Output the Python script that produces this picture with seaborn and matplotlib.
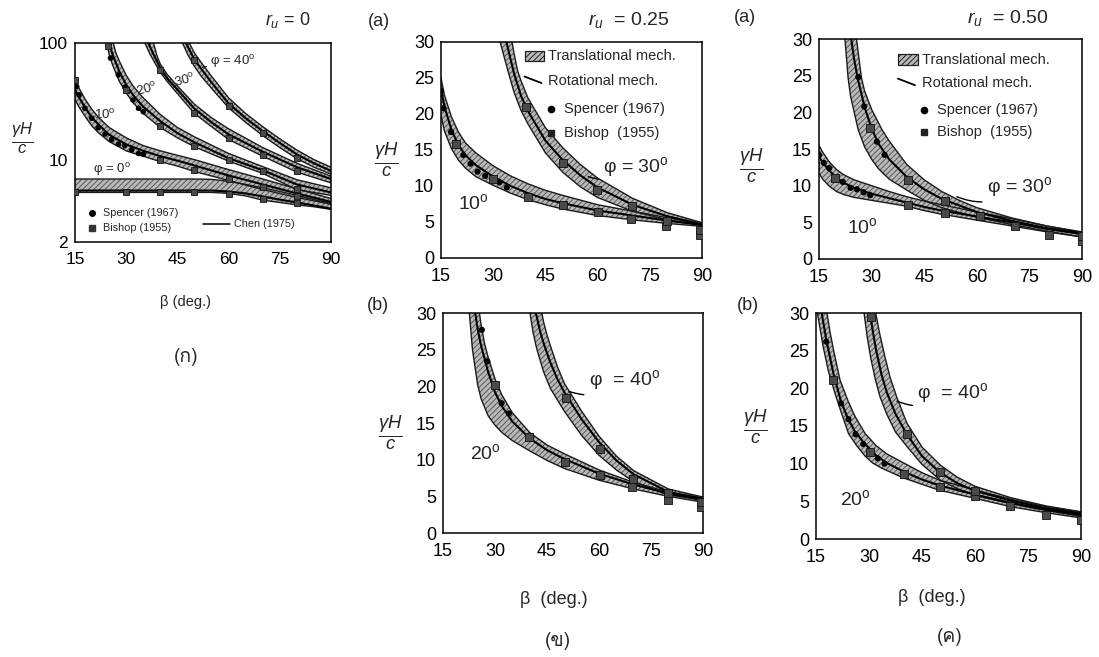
import numpy as np
import matplotlib
matplotlib.use("Agg")
import matplotlib.pyplot as plt
import seaborn as sns
from matplotlib.patches import Rectangle
from matplotlib.lines import Line2D
from matplotlib import font_manager

# ---------------- data ----------------
# Panel (ก)  r_u = 0, log axis
ru0_phi0_b = [15, 30, 40, 50, 55, 60, 65, 70, 75, 80, 85, 90]
ru0_phi0_lo = [5.3, 5.3, 5.3, 5.3, 5.3, 5.2, 4.95, 4.55, 4.35, 4.15, 4.0, 3.8]
ru0_phi0_hi = [6.9, 6.9, 6.9, 6.9, 6.85, 6.6, 6.2, 5.8, 5.4, 5.0, 4.6, 4.3]
ru0_phi0_ln = [5.5, 5.5, 5.5, 5.5, 5.5, 5.4, 5.2, 4.9, 4.6, 4.35, 4.1, 3.85]

ru0_phi10_b = [15, 16, 18, 20, 22, 25, 30, 35, 40, 45, 50, 60, 70, 80, 90]
ru0_phi10_hi = [48, 42, 33, 27, 23, 19, 15.5, 13.3, 12, 11, 10.1, 8.3, 6.9, 5.7, 4.7]
ru0_phi10_lo = [33, 29, 23.5, 19.5, 17, 14.4, 12, 10.8, 9.7, 8.9, 8.0, 6.7, 5.6, 4.8, 4.2]
ru0_phi10_ln = [40, 35, 28, 23, 20, 16.5, 13.6, 12, 10.8, 9.9, 9.0, 7.4, 6.2, 5.2, 4.4]

ru0_phi20_lo_b = [24.3, 25, 26, 28, 30, 32, 35, 40, 45, 50, 60, 70, 80, 90]
ru0_phi20_lo_y = [100, 80, 65, 47, 37.5, 31, 25, 19, 15.5, 13.0, 9.8, 7.7, 5.6, 5.0]
ru0_phi20_hi_b = [26.2, 27, 28, 30, 32, 35, 40, 45, 50, 60, 70, 80, 90]
ru0_phi20_hi_y = [100, 82, 70, 53, 43, 34, 24.5, 19, 15.8, 11.4, 8.8, 6.8, 5.8]
ru0_phi20_ln_b = [25, 26, 28, 30, 32, 35, 40, 45, 50, 60, 70, 80, 90]
ru0_phi20_ln_y = [100, 80, 57, 44, 36, 28.5, 21.5, 17, 14.2, 10.4, 8.2, 6.2, 5.3]

ru0_phi30_lo_b = [35.5, 37, 38, 40, 42, 45, 50, 55, 60, 70, 80, 90]
ru0_phi30_lo_y = [100, 80, 71, 56, 47, 37, 25, 19.3, 15.0, 10.8, 7.9, 6.4]
ru0_phi30_hi_b = [38, 39, 40, 42, 45, 50, 55, 60, 70, 80, 90]
ru0_phi30_hi_y = [100, 78, 66, 54, 43, 30, 23, 18.5, 12.8, 9.4, 7.3]
ru0_phi30_ln_b = [36.5, 38, 40, 42, 45, 50, 55, 60, 70, 80, 90]
ru0_phi30_ln_y = [100, 80, 61, 50, 40, 27.5, 21, 16.6, 11.8, 8.7, 6.9]

ru0_phi40_lo_b = [46.5, 48, 50, 52, 55, 60, 65, 70, 75, 80, 85, 90]
ru0_phi40_lo_y = [100, 80, 63, 52, 41, 28, 21, 16.2, 12.8, 10.3, 8.7, 7.6]
ru0_phi40_hi_b = [48.5, 50, 52, 55, 60, 65, 70, 75, 80, 85, 90]
ru0_phi40_hi_y = [100, 82, 68, 52, 34, 25, 19.3, 15.2, 12.2, 10.1, 8.7]
ru0_phi40_ln_b = [47.5, 50, 52, 55, 60, 65, 70, 75, 80, 85, 90]
ru0_phi40_ln_y = [100, 72, 60, 46, 30.5, 22.8, 17.7, 14, 11.2, 9.4, 8.1]

ru0_spencer_b = [15, 15.5, 16.2, 17.9, 19.9, 21.8, 23.8, 25.7, 27.7, 29.6, 31.6, 33.6, 35,
                 24.8, 25.4, 27.7, 29.6, 32, 33.6, 35]
ru0_spencer_y = [46.9, 42.5, 36, 27.7, 22.8, 18.9, 16.7, 15.0, 13.7, 13.3, 12.2, 11.4, 11.2,
                 93.6, 74.3, 53.4, 42, 32.6, 27.7, 25.9]
ru0_bishop_b = [15, 30, 40, 50, 60, 70, 80, 15, 40, 50, 60, 70, 80,
                24.6, 30, 40, 50, 60, 70, 80, 40, 50, 60, 70, 80, 50, 60, 70, 80]
ru0_bishop_y = [5.35, 5.35, 5.35, 5.35, 5.1, 4.7, 4.3, 48, 10.1, 8.2, 6.9, 5.9, 4.9,
                95, 40, 19.5, 13.3, 10, 8.0, 5.7, 59, 25.1, 15.3, 11.1, 8.1, 72, 28.7, 16.9, 10.4]

# Panel (ข)(a)  r_u = 0.25, phi = 10, 30
ru25_phi10_b = [15, 16, 18, 20, 22, 25, 30, 35, 40, 45, 50, 60, 70, 80, 90]
ru25_phi10_hi = [25.0, 22.6, 19.6, 17.5, 16.0, 14.6, 12.8, 11.4, 10.3, 9.4, 8.7, 7.4, 6.5, 5.6, 4.7]
ru25_phi10_lo = [19.8, 17.6, 15.2, 13.6, 12.5, 11.3, 10.1, 9.0, 8.1, 7.4, 6.8, 5.9, 5.3, 4.8, 4.4]
ru25_phi10_ln = [23.5, 21.0, 17.8, 15.7, 14.3, 12.9, 11.3, 10.0, 9.0, 8.2, 7.6, 6.6, 5.9, 5.2, 4.6]

ru25_phi30_lo_b = [32, 34, 36, 38, 40, 45, 50, 55, 60, 70, 80, 90]
ru25_phi30_lo_y = [30, 26.4, 23.0, 20.5, 18.6, 14.6, 11.9, 9.9, 8.4, 6.5, 5.3, 4.5]
ru25_phi30_hi_b = [35.4, 36, 37, 38, 40, 45, 50, 55, 60, 70, 80, 90]
ru25_phi30_hi_y = [30, 28.4, 26.0, 24.6, 22.2, 18.1, 15.3, 13.0, 11.1, 8.3, 6.3, 4.9]
ru25_phi30_ln_b = [33.8, 35, 36, 38, 40, 45, 50, 55, 60, 70, 80, 90]
ru25_phi30_ln_y = [30, 27.6, 25.6, 22.5, 20.4, 16.3, 13.6, 11.5, 9.8, 7.4, 5.8, 4.7]

ru25a_spencer_b = [15, 15.7, 17.9, 21.4, 23.5, 25.5, 27.7, 31.8, 33.9]
ru25a_spencer_y = [23.2, 20.8, 17.5, 14.3, 13.1, 12.0, 11.4, 10.5, 9.8]
ru25a_bishop_b = [19.2, 29.8, 40, 50.2, 60, 69.7, 79.7, 89.5, 39.4, 50.1, 59.8, 70, 80, 89.5]
ru25a_bishop_y = [15.8, 11.0, 8.5, 7.3, 6.4, 5.4, 4.5, 3.2, 21.0, 13.2, 9.4, 7.2, 5.2, 3.9]

# Panel (ข)(b)  r_u = 0.25, phi = 20, 40
ru25_phi20_lo_b = [22.6, 23.5, 25, 26, 28, 30, 32, 35, 40, 45, 50, 60, 70, 80, 90]
ru25_phi20_lo_y = [30, 25, 20.2, 18.3, 16.0, 14.7, 13.7, 12.6, 11.2, 9.9, 8.8, 7.2, 6.0, 5.0, 4.2]
ru25_phi20_hi_b = [25.5, 26, 27, 28, 30, 32, 35, 40, 45, 50, 60, 70, 80, 90]
ru25_phi20_hi_y = [30, 28.4, 25.8, 24.0, 21.0, 18.8, 16.4, 13.7, 12.0, 10.8, 8.6, 6.9, 5.6, 4.6]
ru25_phi20_ln_b = [24.3, 25, 26, 28, 30, 32, 35, 40, 45, 50, 60, 70, 80, 90]
ru25_phi20_ln_y = [30, 27.8, 25.5, 22.0, 19.2, 17.3, 15.2, 12.9, 11.3, 10.1, 8.1, 6.6, 5.4, 4.5]

ru25_phi40_lo_b = [40.1, 41, 42, 44, 46, 50, 55, 60, 65, 70, 80, 90]
ru25_phi40_lo_y = [30, 27.3, 25.2, 22.0, 19.7, 16.6, 13.3, 10.6, 8.6, 7.0, 5.2, 4.5]
ru25_phi40_hi_b = [43.5, 44, 45, 46, 48, 50, 55, 60, 65, 70, 80, 90]
ru25_phi40_hi_y = [30, 28.8, 27.0, 25.5, 22.7, 20.4, 16.6, 13.2, 10.5, 8.5, 6.0, 4.9]
ru25_phi40_ln_b = [41.8, 43, 44, 46, 48, 50, 55, 60, 65, 70, 80, 90]
ru25_phi40_ln_y = [30, 27.5, 25.9, 23.2, 21.0, 19.2, 15.5, 12.4, 9.9, 8.0, 5.6, 4.7]

ru25b_spencer_b = [26.2, 27.8, 31.9, 34.0]
ru25b_spencer_y = [27.7, 23.4, 17.7, 16.3]
ru25b_bishop_b = [30.0, 39.9, 50.2, 60.3, 69.5, 69.8, 80, 80, 89.5, 89.5, 50.5, 60.3]
ru25b_bishop_y = [20.2, 13.1, 9.7, 7.9, 6.3, 7.4, 4.5, 5.4, 3.6, 4.2, 18.4, 11.5]

# Panel (ค)(a)  r_u = 0.50, phi = 10, 30
ru50_phi10_b = [15, 16, 18, 20, 22, 25, 30, 35, 40, 45, 50, 60, 70, 80, 90]
ru50_phi10_hi = [15.5, 14.6, 13.2, 12.2, 11.5, 10.8, 10.0, 9.2, 8.5, 7.9, 7.4, 6.4, 5.5, 4.5, 3.6]
ru50_phi10_lo = [11.7, 10.9, 9.9, 9.2, 8.8, 8.4, 8.0, 7.6, 7.2, 6.6, 6.1, 5.3, 4.5, 3.7, 3.0]
ru50_phi10_ln = [14.0, 13.2, 12.0, 11.1, 10.4, 9.7, 8.9, 8.3, 7.7, 7.1, 6.6, 5.8, 5.0, 4.1, 3.4]

ru50_phi30_lo_b = [22.4, 23.3, 24, 26.2, 28, 30, 32, 35, 40, 45, 50, 60, 70, 80, 90]
ru50_phi30_lo_y = [30, 24.7, 22.2, 17.6, 15.3, 13.6, 12.3, 10.9, 9.4, 8.0, 7.0, 5.7, 4.7, 3.8, 3.0]
ru50_phi30_hi_b = [25.7, 27.1, 28, 30, 33, 35, 40, 45, 50, 55, 60, 70, 80, 90]
ru50_phi30_hi_y = [30, 24.7, 22.9, 20.4, 17.6, 16.1, 12.9, 10.8, 9.2, 8.0, 7.0, 5.6, 4.5, 3.7]
ru50_phi30_ln_b = [24.2, 25, 26, 28, 30, 32, 35, 40, 45, 50, 60, 70, 80, 90]
ru50_phi30_ln_y = [30, 27.3, 24.7, 20.7, 17.8, 15.7, 13.6, 11.2, 9.5, 8.2, 6.4, 5.2, 4.2, 3.5]

ru50a_spencer_b = [15, 16.4, 17.9, 21.8, 24, 25.8, 27.7, 29.6, 26.2, 27.9, 31.5, 33.7]
ru50a_spencer_y = [14.2, 13.1, 12.4, 10.5, 9.7, 9.5, 9.1, 8.7, 24.8, 20.8, 16.0, 14.2]
ru50a_bishop_b = [19.6, 29.6, 40.5, 40.5, 50.8, 50.8, 60.8, 70.8, 80.5, 90, 90]
ru50a_bishop_y = [11.1, 17.9, 10.8, 7.4, 7.9, 6.3, 5.9, 4.5, 3.3, 2.4, 3.1]

# Panel (ค)(b)  r_u = 0.50, phi = 20, 40
ru50_phi20_lo_b = [15.4, 17, 18.5, 20.4, 22, 24.2, 26.5, 28.9, 31, 33.6, 39.8, 49.7, 60, 70, 80, 90]
ru50_phi20_lo_y = [30, 25.6, 22.3, 19.3, 17.0, 14.0, 12.4, 11.0, 10.1, 9.4, 8.1, 6.5, 5.4, 4.3, 3.5, 2.8]
ru50_phi20_hi_b = [18.1, 19, 20, 21.8, 24, 26, 28.9, 32, 35, 39.8, 45, 50, 60, 70, 80, 90]
ru50_phi20_hi_y = [30, 27.4, 25.0, 21.1, 18.4, 16.3, 14.0, 12.4, 11.3, 10.1, 8.8, 7.8, 6.5, 5.3, 4.3, 3.6]
ru50_phi20_ln_b = [16.6, 17.9, 20, 22, 24, 26, 28.5, 32, 35, 40, 45, 50, 60, 70, 80, 90]
ru50_phi20_ln_y = [30, 26.5, 21.8, 18.4, 16.0, 14.3, 12.8, 11.1, 10.1, 8.9, 7.9, 7.1, 5.9, 4.8, 3.9, 3.2]

ru50_phi40_lo_b = [28.6, 29.5, 30.5, 31.8, 33.1, 35, 37.5, 40.7, 45, 50.2, 55, 60, 70, 80, 90]
ru50_phi40_lo_y = [30, 26.8, 24.0, 21.2, 18.9, 16.6, 14.2, 12.3, 9.9, 7.8, 6.7, 5.8, 4.7, 3.8, 3.0]
ru50_phi40_hi_b = [31.9, 33, 34.5, 36, 37.8, 40.7, 45, 50.2, 55, 60, 70, 80, 90]
ru50_phi40_hi_y = [30, 27.3, 24.2, 21.4, 18.9, 15.4, 12.2, 9.8, 8.2, 7.0, 5.5, 4.4, 3.6]
ru50_phi40_ln_b = [30.3, 31, 32, 33.5, 35, 37.5, 40.7, 45, 50.2, 55, 60, 70, 80, 90]
ru50_phi40_ln_y = [30, 27.8, 25.1, 21.9, 19.5, 16.6, 13.9, 11.0, 8.8, 7.4, 6.4, 5.1, 4.1, 3.4]

ru50b_spencer_b = [17.9, 22.1, 24.2, 26.2, 28.4, 32.5, 34.4]
ru50b_spencer_y = [26.2, 18.0, 15.9, 13.9, 12.6, 10.7, 10.0]
ru50b_bishop_b = [19.9, 30.3, 39.8, 50.2, 60, 60, 70, 80, 90, 30.5, 40.7, 50.2]
ru50b_bishop_y = [21.1, 11.6, 8.6, 6.9, 5.7, 6.4, 4.4, 3.2, 2.5, 29.5, 13.9, 8.9]

x_ticks = [15, 30, 45, 60, 75, 90]
y_ticks_lin = [0, 5, 10, 15, 20, 25, 30]
y_ticks_log = [2, 10, 100]

# ---------------- style ----------------
sns.set_theme(style="white")
plt.rcParams["font.family"] = ["Liberation Sans", "DejaVu Sans"]
plt.rcParams["mathtext.fontset"] = "custom"
plt.rcParams["mathtext.rm"] = "Liberation Sans"
plt.rcParams["mathtext.it"] = "Liberation Sans:italic"
plt.rcParams["hatch.linewidth"] = 0.7


def find_thai_font():
    try:
        from fontTools.ttLib import TTFont
    except Exception:
        return None
    for f in font_manager.fontManager.ttflist:
        try:
            tt = TTFont(f.fname, fontNumber=0, lazy=True)
            cmap = tt.getBestCmap()
            if cmap and 0x0E01 in cmap and 0x0E02 in cmap and 0x0E04 in cmap:
                return f.name
        except Exception:
            continue
    return None


THAI = find_thai_font()
thai_family = [THAI, "DejaVu Sans"] if THAI else ["DejaVu Sans"]

W, H = 1099, 657
fig = plt.figure(figsize=(W / 100, H / 100), dpi=100)
fig.patch.set_facecolor("white")


def rect(l, t, r, b):
    return [l / W, 1 - b / H, (r - l) / W, (b - t) / H]


def fp(x, y):
    return (x / W, 1 - y / H)


BAND_FC = "#b9b9b9"
BAND_HC = "#575757"


def band(ax, lb, ly, hb, hy, nb, ny):
    xs = np.r_[np.asarray(lb, float), np.asarray(hb, float)[::-1]]
    ys = np.r_[np.asarray(ly, float), np.asarray(hy, float)[::-1]]
    ax.fill(xs, ys, facecolor=BAND_FC, edgecolor=BAND_HC, hatch="//////", lw=0, zorder=1)
    ax.plot(lb, ly, color="#1a1a1a", lw=1.0, zorder=2)
    ax.plot(hb, hy, color="#1a1a1a", lw=1.0, zorder=2)
    sns.lineplot(x=nb, y=ny, ax=ax, color="black", lw=1.5, zorder=3, errorbar=None)


def markers(ax, sb, sy, bb, by, ms=20, bs=26):
    sns.scatterplot(x=sb, y=sy, ax=ax, marker="o", color="black", s=ms,
                    edgecolor="none", zorder=5)
    sns.scatterplot(x=bb, y=by, ax=ax, marker="s", color="#4a4a4a", s=bs,
                    edgecolor="#111111", linewidth=0.6, zorder=5)


def style_axes(ax, log=False, fs=13):
    ax.set_xlim(15, 90)
    ax.set_xticks(x_ticks)
    ax.set_xticks(np.arange(15, 91, 5), minor=True)
    if log:
        ax.set_yscale("log")
        ax.set_ylim(2, 100)
        ax.set_yticks(y_ticks_log)
        ax.set_yticklabels([str(v) for v in y_ticks_log])
    else:
        ax.set_ylim(0, 30)
        ax.set_yticks(y_ticks_lin)
    ax.tick_params(axis="both", which="both", direction="in", top=False, right=False,
                   labelsize=fs, colors="black", width=1.0)
    ax.tick_params(axis="x", which="both", length=5, pad=7)
    ax.tick_params(axis="y", which="major", length=3 if not log else 5, pad=5)
    ax.tick_params(axis="y", which="minor", length=3)
    for s in ax.spines.values():
        s.set_color("black")
        s.set_linewidth(1.1)
    ax.set_xlabel("")
    ax.set_ylabel("")
    ax.set_facecolor("white")


def frac_label(x, y, fs=19):
    fig.text(*fp(x, y), r"$\frac{\gamma H}{c}$", fontsize=fs, ha="center", va="center")


def deg(s):
    return s + r"$^{\mathrm{o}}$"


# ---------------- panel (ก) ----------------
ax0 = fig.add_axes(rect(75, 43, 331, 242))
band(ax0, ru0_phi0_b, ru0_phi0_lo, ru0_phi0_b, ru0_phi0_hi, ru0_phi0_b, ru0_phi0_ln)
band(ax0, ru0_phi10_b, ru0_phi10_lo, ru0_phi10_b, ru0_phi10_hi, ru0_phi10_b, ru0_phi10_ln)
band(ax0, ru0_phi20_lo_b, ru0_phi20_lo_y, ru0_phi20_hi_b, ru0_phi20_hi_y, ru0_phi20_ln_b, ru0_phi20_ln_y)
band(ax0, ru0_phi30_lo_b, ru0_phi30_lo_y, ru0_phi30_hi_b, ru0_phi30_hi_y, ru0_phi30_ln_b, ru0_phi30_ln_y)
band(ax0, ru0_phi40_lo_b, ru0_phi40_lo_y, ru0_phi40_hi_b, ru0_phi40_hi_y, ru0_phi40_ln_b, ru0_phi40_ln_y)
markers(ax0, ru0_spencer_b, ru0_spencer_y, ru0_bishop_b, ru0_bishop_y, ms=16, bs=20)
style_axes(ax0, log=True, fs=12.5)
ax0.text(20.3, 8.3, "φ = " + deg("0"), fontsize=9.5, va="center")
ax0.text(20.6, 24.5, deg("10"), fontsize=9.5, va="center")
ax0.text(32.4, 40, deg("20"), fontsize=9.5, va="center", rotation=15)
ax0.text(43.5, 48, deg("30"), fontsize=9.5, va="center", rotation=15)
ax0.annotate("φ = " + deg("40"), xy=(52.3, 62), xytext=(54.5, 69), fontsize=9.5, va="center",
             arrowprops=dict(arrowstyle="-", lw=0.8, color="black", shrinkA=0, shrinkB=0))
# legend (ก)
ax0.add_line(Line2D([0.067], [0.146], transform=ax0.transAxes, marker="o", ms=4, color="black", ls=""))
ax0.add_line(Line2D([0.067], [0.071], transform=ax0.transAxes, marker="s", ms=4, color="#333", ls=""))
ax0.text(0.11, 0.146, "Spencer (1967)", transform=ax0.transAxes, fontsize=7.8, va="center")
ax0.text(0.11, 0.071, "Bishop (1955)", transform=ax0.transAxes, fontsize=7.8, va="center")
ax0.add_line(Line2D([0.50, 0.605], [0.09, 0.09], transform=ax0.transAxes, color="black", lw=1.1))
ax0.text(0.62, 0.09, "Chen (1975)", transform=ax0.transAxes, fontsize=7.8, va="center")

fig.text(*fp(288, 20), r"$r_u$ = 0", fontsize=13, ha="center", va="center")
frac_label(22, 139, fs=17)
fig.text(*fp(186, 302), "β (deg.)", fontsize=10.5, ha="center", va="center")
fig.text(*fp(186, 357), "(ก)", fontsize=14, ha="center", va="center", family=thai_family)


def legend_rot(ax, x0, y0, dy, fs=10.5):
    """Legend block of the r_u panels, in axes fraction."""
    ax.add_patch(Rectangle((x0, y0 - 0.025), 0.075, 0.05, transform=ax.transAxes,
                           facecolor=BAND_FC, edgecolor="#222", hatch="//////", lw=0.9,
                           zorder=6))
    ax.text(x0 + 0.09, y0, "Translational mech.", transform=ax.transAxes, fontsize=fs,
            va="center", zorder=6)
    ax.add_line(Line2D([x0, x0 + 0.065], [y0 - dy + 0.02, y0 - dy - 0.01],
                       transform=ax.transAxes, color="black", lw=1.3, zorder=6))
    ax.text(x0 + 0.09, y0 - dy, "Rotational mech.", transform=ax.transAxes, fontsize=fs,
            va="center", zorder=6)
    ax.add_line(Line2D([x0 + 0.1], [y0 - 2.15 * dy], transform=ax.transAxes, marker="o",
                       ms=4.5, color="black", ls="", zorder=6))
    ax.text(x0 + 0.15, y0 - 2.15 * dy, "Spencer (1967)", transform=ax.transAxes,
            fontsize=fs, va="center", zorder=6)
    ax.add_line(Line2D([x0 + 0.1], [y0 - 3.1 * dy], transform=ax.transAxes, marker="s",
                       ms=4.5, color="#222", ls="", zorder=6))
    ax.text(x0 + 0.15, y0 - 3.1 * dy, "Bishop  (1955)", transform=ax.transAxes,
            fontsize=fs, va="center", zorder=6)


# ---------------- panel (ข)(a) ----------------
ax1 = fig.add_axes(rect(441, 42, 702, 258))
band(ax1, ru25_phi10_b, ru25_phi10_lo, ru25_phi10_b, ru25_phi10_hi, ru25_phi10_b, ru25_phi10_ln)
band(ax1, ru25_phi30_lo_b, ru25_phi30_lo_y, ru25_phi30_hi_b, ru25_phi30_hi_y, ru25_phi30_ln_b, ru25_phi30_ln_y)
markers(ax1, ru25a_spencer_b, ru25a_spencer_y, ru25a_bishop_b, ru25a_bishop_y)
style_axes(ax1)
legend_rot(ax1, 0.32, 0.935, 0.115)
ax1.annotate("φ = " + deg("30"), xy=(57.3, 11.3), xytext=(61.5, 12.7), fontsize=14, va="center",
             arrowprops=dict(arrowstyle="-", lw=1.0, color="black", shrinkA=1, shrinkB=0,
                             connectionstyle="arc3,rad=-0.3"))
ax1.text(20, 7.7, deg("10"), fontsize=14, va="center")
fig.text(*fp(379, 22), "(a)", fontsize=13, ha="center", va="center")
fig.text(*fp(629, 20), r"$r_u$  = 0.25", fontsize=14, ha="center", va="center")
frac_label(386, 160)

# ---------------- panel (ข)(b) ----------------
ax2 = fig.add_axes(rect(443, 313, 703, 533))
band(ax2, ru25_phi20_lo_b, ru25_phi20_lo_y, ru25_phi20_hi_b, ru25_phi20_hi_y, ru25_phi20_ln_b, ru25_phi20_ln_y)
band(ax2, ru25_phi40_lo_b, ru25_phi40_lo_y, ru25_phi40_hi_b, ru25_phi40_hi_y, ru25_phi40_ln_b, ru25_phi40_ln_y)
markers(ax2, ru25b_spencer_b, ru25b_spencer_y, ru25b_bishop_b, ru25b_bishop_y)
style_axes(ax2)
ax2.annotate("φ  = " + deg("40"), xy=(51.4, 19.3), xytext=(57.0, 20.9), fontsize=14, va="center",
             arrowprops=dict(arrowstyle="-", lw=1.0, color="black", shrinkA=1, shrinkB=0,
                             connectionstyle="arc3,rad=-0.3"))
ax2.text(22.8, 10.9, deg("20"), fontsize=14, va="center")
fig.text(*fp(378, 305), "(b)", fontsize=13, ha="center", va="center")
frac_label(390, 433)
fig.text(*fp(554, 600), "β  (deg.)", fontsize=13, ha="center", va="center")
fig.text(*fp(558, 641), "(ข)", fontsize=14, ha="center", va="center", family=thai_family)

# ---------------- panel (ค)(a) ----------------
ax3 = fig.add_axes(rect(819, 39, 1082, 259))
band(ax3, ru50_phi10_b, ru50_phi10_lo, ru50_phi10_b, ru50_phi10_hi, ru50_phi10_b, ru50_phi10_ln)
band(ax3, ru50_phi30_lo_b, ru50_phi30_lo_y, ru50_phi30_hi_b, ru50_phi30_hi_y, ru50_phi30_ln_b, ru50_phi30_ln_y)
markers(ax3, ru50a_spencer_b, ru50a_spencer_y, ru50a_bishop_b, ru50a_bishop_y)
style_axes(ax3)
legend_rot(ax3, 0.30, 0.905, 0.105)
ax3.annotate("φ = " + deg("30"), xy=(54.3, 8.5), xytext=(62.8, 9.8), fontsize=14, va="center",
             arrowprops=dict(arrowstyle="-", lw=1.0, color="black", shrinkA=1, shrinkB=0,
                             connectionstyle="arc3,rad=-0.3"))
ax3.text(23, 4.3, deg("10"), fontsize=14, va="center")
fig.text(*fp(745, 17), "(a)", fontsize=13, ha="center", va="center")
fig.text(*fp(1008, 18), r"$r_u$  = 0.50", fontsize=14, ha="center", va="center")
frac_label(751, 166)

# ---------------- panel (ค)(b) ----------------
ax4 = fig.add_axes(rect(816, 313, 1081, 539))
band(ax4, ru50_phi20_lo_b, ru50_phi20_lo_y, ru50_phi20_hi_b, ru50_phi20_hi_y, ru50_phi20_ln_b, ru50_phi20_ln_y)
band(ax4, ru50_phi40_lo_b, ru50_phi40_lo_y, ru50_phi40_hi_b, ru50_phi40_hi_y, ru50_phi40_ln_b, ru50_phi40_ln_y)
markers(ax4, ru50b_spencer_b, ru50b_spencer_y, ru50b_bishop_b, ru50b_bishop_y)
style_axes(ax4)
ax4.annotate("φ  = " + deg("40"), xy=(37.9, 18.3), xytext=(43.6, 19.4), fontsize=14, va="center",
             arrowprops=dict(arrowstyle="-", lw=1.0, color="black", shrinkA=1, shrinkB=0,
                             connectionstyle="arc3,rad=-0.3"))
ax4.text(21.8, 5.3, deg("20"), fontsize=14, va="center")
fig.text(*fp(748, 305), "(b)", fontsize=13, ha="center", va="center")
frac_label(755, 427)
fig.text(*fp(932, 598), "β  (deg.)", fontsize=13, ha="center", va="center")
fig.text(*fp(950, 637), "(ค)", fontsize=14, ha="center", va="center", family=thai_family)

fig.savefig("out.png", dpi=100, facecolor="white")
